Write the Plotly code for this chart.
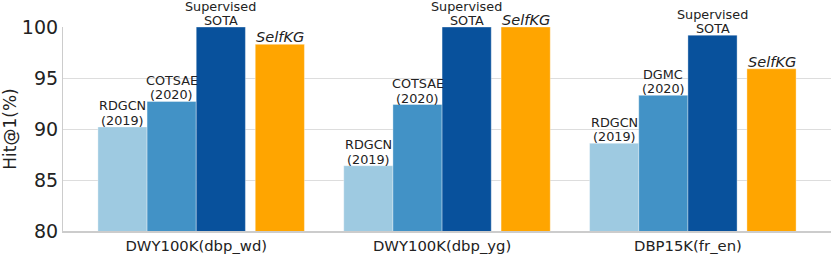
import plotly.graph_objects as go

datasets = ["DWY100K(dbp_wd)", "DWY100K(dbp_yg)", "DBP15K(fr_en)"]
baseline1_names = ["RDGCN\n(2019)", "RDGCN\n(2019)", "RDGCN\n(2019)"]
baseline1_vals = [90.2, 86.4, 88.6]
baseline2_names = ["COTSAE\n(2020)", "COTSAE\n(2020)", "DGMC\n(2020)"]
baseline2_vals = [92.7, 92.4, 93.3]
sota_names = ["Supervised\nSOTA"] * 3
sota_vals = [100.0, 100.0, 99.2]
selfkg_names = ["<i>SelfKG</i>"] * 3
selfkg_vals = [98.3, 100.0, 95.9]
y_ticks = [80, 85, 90, 95, 100]

FONT = "DejaVu Sans"
series = [
    (baseline1_names, baseline1_vals, "#9ecae1", -0.3, 12.8),
    (baseline2_names, baseline2_vals, "#4292c6", -0.1, 12.8),
    (sota_names, sota_vals, "#08519c", 0.1, 12.8),
    (selfkg_names, selfkg_vals, "#ffa500", 0.34, 14.6),
]

LINE_PITCH = 14.5

fig = go.Figure()
annotations = []
for names, vals, color, off, fs in series:
    xs = [i + off for i in range(len(datasets))]
    fig.add_trace(go.Bar(
        x=xs, y=vals, width=0.2,
        marker=dict(color=color, line=dict(color="rgba(255,255,255,0.35)", width=1)),
        showlegend=False, hoverinfo="skip",
    ))
    for x, v, n in zip(xs, vals, names):
        lines = n.split("\n")
        for k, line in enumerate(reversed(lines)):
            annotations.append(dict(
                x=x, y=v, xref="x", yref="y", text=line, showarrow=False,
                yanchor="bottom", xanchor="center", yshift=-3 + k * LINE_PITCH,
                font=dict(family=FONT, size=fs, color="#222222"),
            ))

fig.update_layout(
    width=831, height=254,
    margin=dict(l=63, r=0, t=27, b=19),
    plot_bgcolor="white", paper_bgcolor="white",
    barmode="overlay",
    font=dict(family=FONT, color="#222222"),
    annotations=annotations,
    xaxis=dict(
        range=[-0.542, 2.582],
        tickvals=list(range(len(datasets))), ticktext=datasets,
        tickfont=dict(size=14.8, family=FONT, color="#222222"),
        showgrid=False, zeroline=False,
        showline=True, linecolor="#cccccc", linewidth=1.5,
        ticks="", ticklen=0,
    ),
    yaxis=dict(
        range=[80, 100], tickvals=y_ticks,
        tickfont=dict(size=19, family=FONT, color="#222222"),
        showgrid=True, gridcolor="#dddddd", gridwidth=1,
        zeroline=False, showline=True, linecolor="#cccccc", linewidth=1.2,
        ticks="", ticklen=0,
        title=dict(text="Hit@1(%)", font=dict(size=17, family=FONT, color="#222222"), standoff=8),
    ),
)

fig.write_html("out.html", config={"displayModeBar": False},
               post_script="document.body.style.margin='0';document.body.style.overflow='hidden';")
